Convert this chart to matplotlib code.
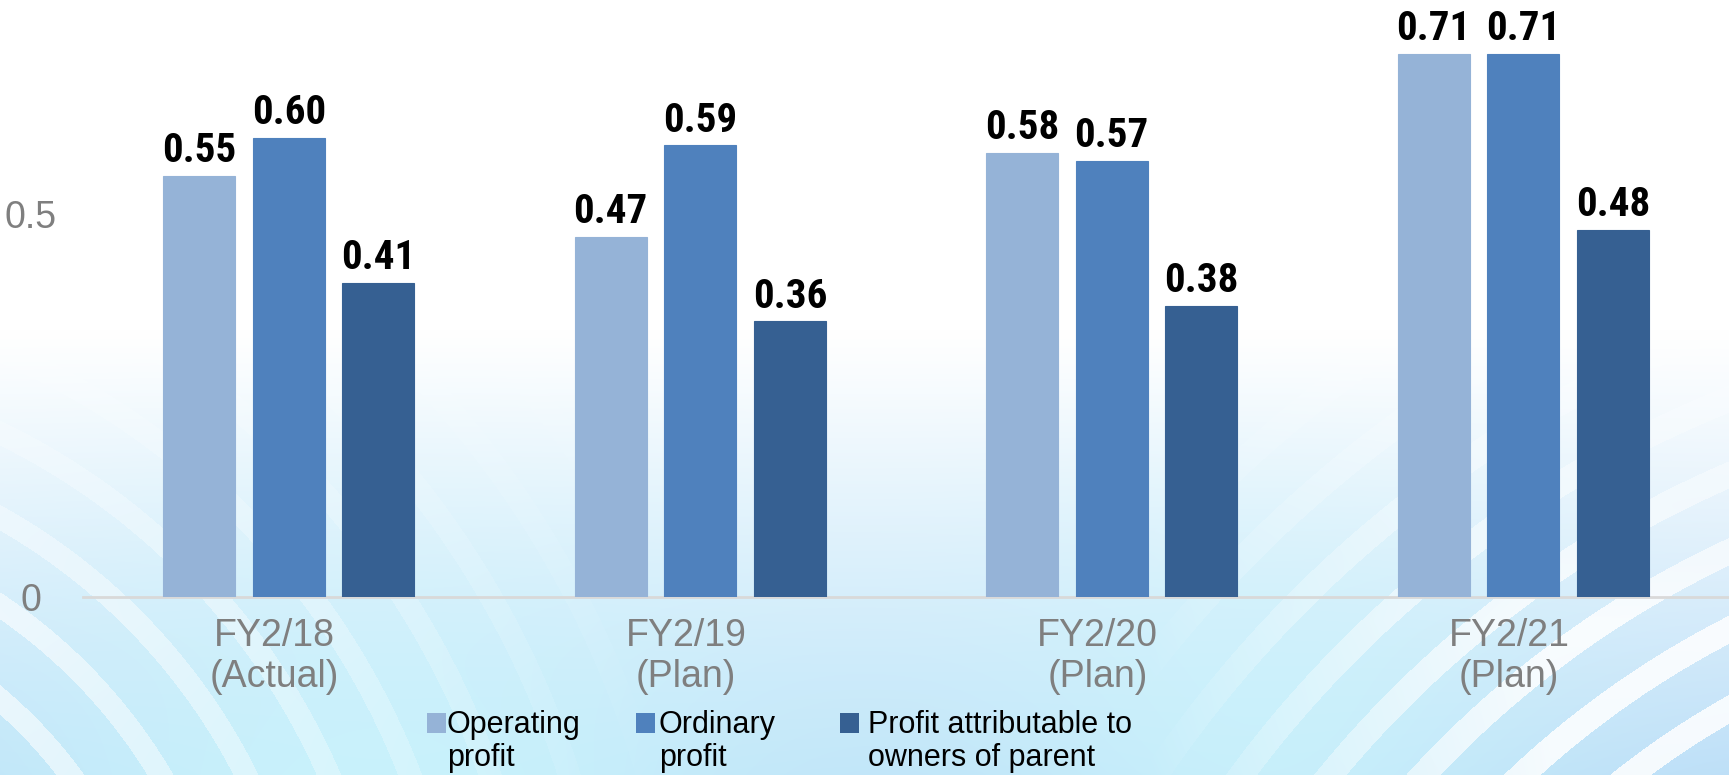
import numpy as np
import matplotlib
matplotlib.use("Agg")
import matplotlib.pyplot as plt
import matplotlib.transforms as mtransforms
from matplotlib.patches import Rectangle
from matplotlib import font_manager
from matplotlib.font_manager import FontProperties

# ---- data ----
categories = ["FY2/18\n(Actual)", "FY2/19\n(Plan)", "FY2/20\n(Plan)", "FY2/21\n(Plan)"]
series_names = ["Operating\nprofit", "Ordinary\nprofit", "Profit attributable to\nowners of parent"]
operating_profit = [0.55, 0.47, 0.58, 0.71]
ordinary_profit = [0.60, 0.59, 0.57, 0.71]
profit_owners = [0.41, 0.36, 0.38, 0.48]
ytick_values = [0, 0.5]
ytick_labels = ["0", "0.5"]

series = [operating_profit, ordinary_profit, profit_owners]
colors = ["#95B3D7", "#4F81BD", "#366092"]

base_font = ["Liberation Sans", "DejaVu Sans"]
plt.rcParams["font.family"] = base_font

# look for a condensed / narrow bold face
cond_bold = None
for f in font_manager.fontManager.ttflist:
    key = (f.name + " " + f.fname).lower()
    if ("narrow" in key or "condensed" in key or str(f.stretch) in ("condensed", "semi-condensed")) \
            and (f.weight in ("bold", 700) or "bold" in f.fname.lower()) \
            and "oblique" not in f.fname.lower() and "italic" not in f.fname.lower():
        cond_bold = f.fname
        if "liberation" in key or "arial" in key:
            break

W, H = 1729, 775
fig = plt.figure(figsize=(W / 100, H / 100), dpi=100)

# ---- decorative background ----
yy, xx = np.mgrid[0:H, 0:W].astype(float)
t = np.clip((yy - 330) / (H - 330), 0, 1) ** 1.1
top = np.array([1.0, 1.0, 1.0])
bottom = np.array([0.74, 0.87, 0.97])
img = top[None, None, :] * (1 - t[..., None]) + bottom[None, None, :] * t[..., None]
for cx, cy, r in [(380, 720, 320), (1260, 640, 220)]:
    w = np.exp(-(((xx - cx) ** 2 + (yy - cy) ** 2) / (2 * r ** 2))) * t
    cyan = np.array([0.80, 0.97, 0.99])
    img = img * (1 - 0.8 * w[..., None]) + cyan[None, None, :] * 0.8 * w[..., None]
for cx, cy, period, width, strength in [(2150, 1450, 70, 0.36, 0.85), (-300, 1050, 75, 0.30, 0.6)]:
    d = np.sqrt((xx - cx) ** 2 + (yy - cy) ** 2)
    phase = (d % period) / period
    band = (phase < width).astype(float)
    a = band * strength * np.clip(t * 1.6, 0, 1)
    if cx < 0:
        a *= np.clip(1 - xx / 650, 0, 1)
    else:
        a *= np.clip((xx - 1150) / 400, 0, 1)
    img = img * (1 - a[..., None]) + a[..., None]
bg = fig.add_axes([0, 0, 1, 1], zorder=-1)
bg.imshow(np.clip(img, 0, 1), aspect="auto", extent=[0, 1, 0, 1], interpolation="bilinear")
bg.axis("off")

# ---- main axes ----
ax = fig.add_axes([83 / W, 1 - 597 / H, 1 - 83 / W, 597 / H])
ax.set_facecolor("none")
x = np.arange(len(categories))
bw = 0.175
step = 0.218
if cond_bold:
    label_fp = FontProperties(fname=cond_bold, size=29.5)
else:
    label_fp = FontProperties(family=base_font, weight="bold", size=28)
for i, (vals, col) in enumerate(zip(series, colors)):
    bars = ax.bar(x + (i - 1) * step, vals, width=bw, color=col, edgecolor=col, linewidth=0.8, zorder=3)
    for b, v in zip(bars, vals):
        ax.annotate(f"{v:.2f}", (b.get_x() + b.get_width() / 2, v), xytext=(0, 10),
                    textcoords="offset points", ha="center", va="baseline",
                    color="black", fontproperties=label_fp)

ax.set_xlim(-0.5, 3.5)
ax.set_ylim(0, 0.78)
ax.set_xticks(x)
ax.set_xticklabels(categories, fontsize=27, color="#7F7F7F", linespacing=1.2)
ax.set_yticks(ytick_values)
ax.set_yticklabels(ytick_labels, fontsize=27, color="#7F7F7F", ha="center")
ax.tick_params(axis="both", length=0)
ax.tick_params(axis="x", pad=15)
ax.tick_params(axis="y", pad=37.5)
shift = mtransforms.ScaledTranslation(-14 / 100, 0, fig.dpi_scale_trans)
for lab in ax.get_xticklabels():
    lab.set_transform(lab.get_transform() + shift)
for s in ["top", "right", "left"]:
    ax.spines[s].set_visible(False)
ax.spines["bottom"].set_color("#D9D9D9")
ax.spines["bottom"].set_linewidth(2)

# ---- legend ----
marker_x = [427, 636, 840]
text_x = [447, 659, 868]
for mx, tx, name, col in zip(marker_x, text_x, series_names, colors):
    fig.patches.append(Rectangle((mx / W, 1 - 733 / H), 19 / W, 20 / H,
                                 transform=fig.transFigure, facecolor=col, edgecolor="none"))
    fig.text(tx / W, 1 - 766 / H, name, fontsize=22, color="black", ha="left", va="baseline",
             linespacing=1.12)

fig.savefig("out.png", dpi=100)
